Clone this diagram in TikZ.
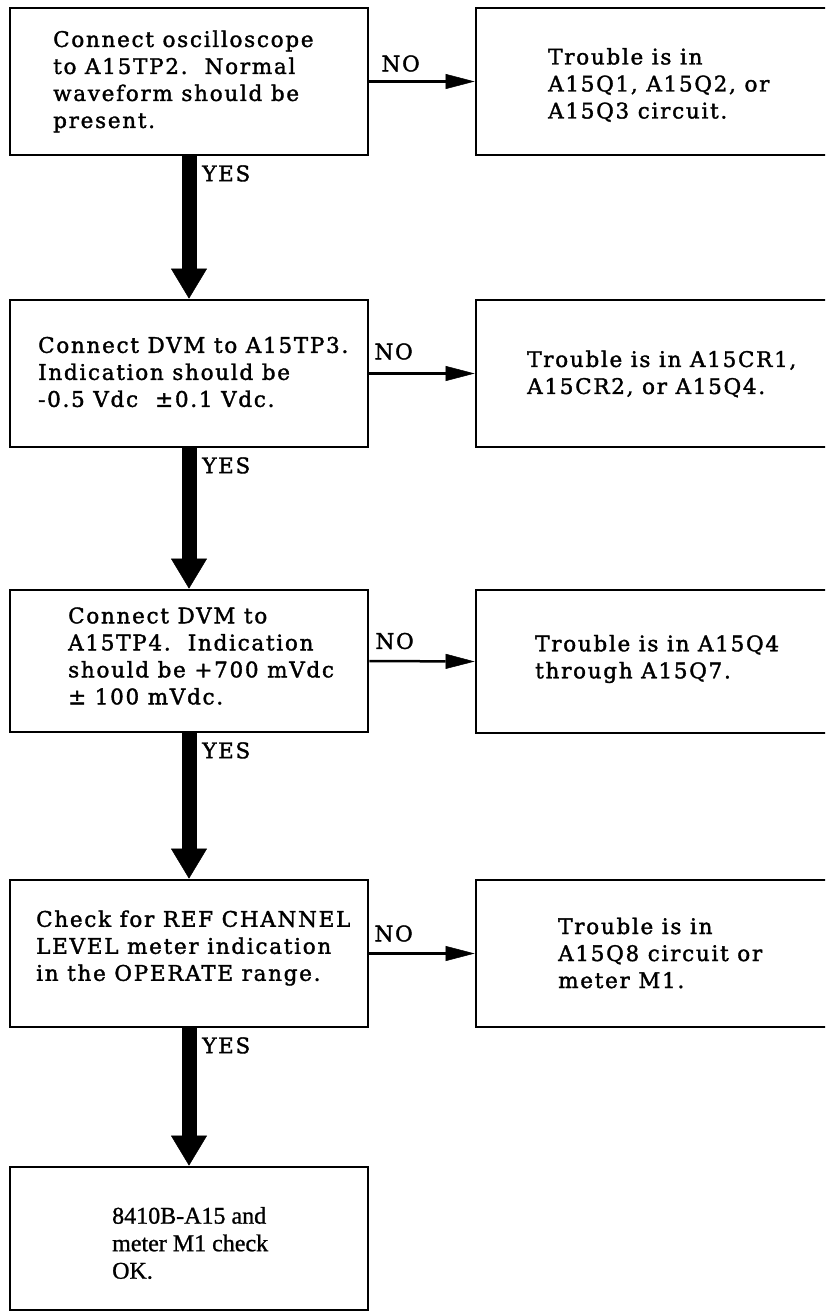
\documentclass[tikz,border=0pt]{standalone}
\usepackage{fontspec}
\usetikzlibrary{arrows.meta,calc}
\newfontfamily\twfont{DejaVu Serif}[LetterSpace=8,FakeBold=1.6]
\newfontfamily\tmfont{Liberation Serif}[FakeBold=1.0]
\begin{document}
\begin{tikzpicture}[x=1pt,y=-1pt,
  box/.style={draw, line width=2.8pt, rectangle, inner sep=0pt, minimum width=358pt},
  rbox/.style={draw, line width=2.8pt, rectangle, inner sep=0pt, minimum width=380pt},
  txt/.style={anchor=west, align=left, inner sep=0pt, font=\twfont\fontsize{21.5}{27}\selectfont},
  ttxt/.style={anchor=west, align=left, inner sep=0pt, font=\tmfont\fontsize{24}{27.5}\selectfont},
  lbl/.style={anchor=west, inner sep=0pt, font=\twfont\fontsize{21.5}{27}\selectfont},
  yesarrow/.style={-{Triangle[length=30pt,width=36pt,line width=0.5pt]}, line width=15pt},
  noarrow/.style={-{Triangle[length=29pt,width=15pt,line width=0.5pt]}, line width=2.5pt},
]
\useasboundingbox (0,0) rectangle (825,1312);
\clip (0,0) rectangle (825,1312);
\fill[white] (0,0) rectangle (825,1312);

% left column boxes
\node[box, minimum height=147pt] (b1) at (189,81.5) {};
\node[box, minimum height=147pt] (b2) at (189,373.5) {};
\node[box, minimum height=142pt] (b3) at (189,661) {};
\node[box, minimum height=147pt] (b4) at (189,953.5) {};
\node[box, minimum height=143pt] (b5) at (189,1238.5) {};

% right column boxes
\node[rbox, minimum height=147pt] (r1) at (666,81.5) {};
\node[rbox, minimum height=147pt] (r2) at (666,373.5) {};
\node[rbox, minimum height=143pt] (r3) at (666,661.5) {};
\node[rbox, minimum height=147pt] (r4) at (666,953.5) {};

% texts
\node[txt] (t1) at (53,81.5) {Connect oscilloscope\\to A15TP2.\ \ Normal\\waveform should be\\present.};
\node[txt] (t2) at (38,372) {Connect DVM to A15TP3.\\Indication should be\\-0.5 Vdc\ \ ±0.1 Vdc.};
\node[txt] (t3) at (68,656) {Connect DVM to\\A15TP4.\ \ Indication\\should be +700 mVdc\\± 100 mVdc.};
\node[txt] (t4) at (36,948) {Check for REF CHANNEL\\LEVEL meter indication\\in the OPERATE range.};
\node[ttxt] (t5) at (112,1243) {8410B-A15 and\\meter M1 check\\OK.};

\node[txt] (u1) at (548,85) {Trouble is in\\A15Q1, A15Q2, or\\A15Q3 circuit.};
\node[txt] (u2) at (527,374) {Trouble is in A15CR1,\\A15CR2, or A15Q4.};
\node[txt] (u3) at (535,659) {Trouble is in A15Q4\\through A15Q7.};
\node[txt] (u4) at (558,953) {Trouble is in\\A15Q8 circuit or\\meter M1.};

% YES connectors
\draw[yesarrow] (b1.south) -- (b2.north);
\draw[yesarrow] (b2.south) -- (b3.north);
\draw[yesarrow] (b3.south) -- (b4.north);
\draw[yesarrow] (b4.south) -- (b5.north);

\node[lbl] (y1) at ($(b1.south)+(13,17)$) {YES};
\node[lbl] (y2) at ($(b2.south)+(13,17)$) {YES};
\node[lbl] (y3) at ($(b3.south)+(13,17)$) {YES};
\node[lbl] (y4) at ($(b4.south)+(13,17)$) {YES};

% NO connectors
\draw[noarrow] (b1.east) -- (r1.west);
\draw[noarrow] (b2.east) -- (r2.west);
\draw[noarrow] (b3.east) -- (r3.west);
\draw[noarrow] (b4.east) -- (r4.west);

\node[lbl] (n1) at ($(b1.east)+(12,-18)$) {NO};
\node[lbl] (n2) at ($(b2.east)+(5,-22)$) {NO};
\node[lbl] (n3) at ($(b3.east)+(6,-20)$) {NO};
\node[lbl] (n4) at ($(b4.east)+(5,-20)$) {NO};
\end{tikzpicture}
\end{document}
